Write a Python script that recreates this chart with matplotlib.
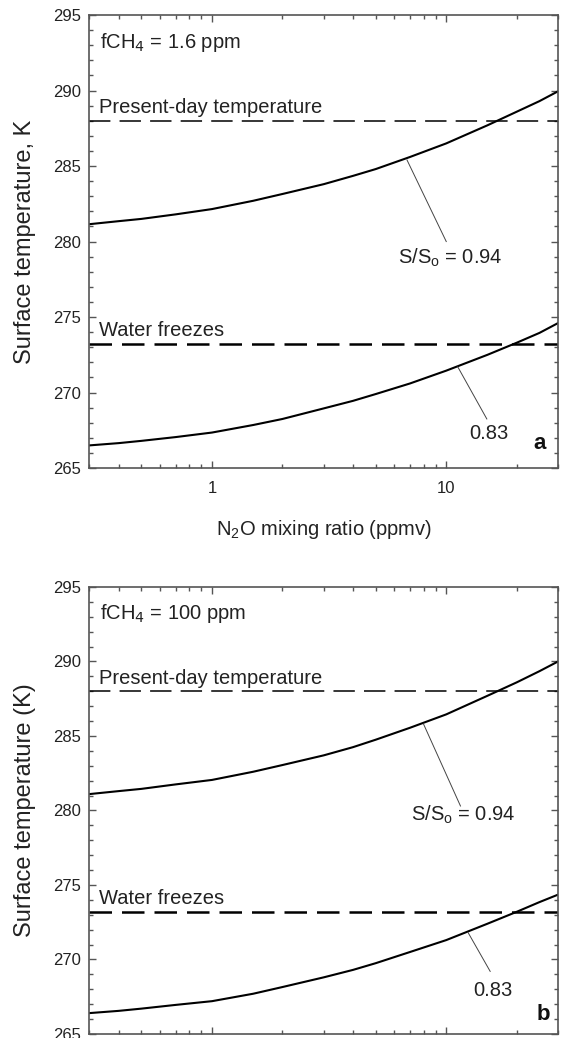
import matplotlib
matplotlib.use("Agg")
import matplotlib.pyplot as plt
from matplotlib.ticker import MultipleLocator, NullFormatter, LogLocator

plt.rcParams['font.family'] = ['Liberation Sans', 'DejaVu Sans']

# N2O mixing ratio (ppmv) and surface temperature (K)
n2o = [0.3, 0.4, 0.5, 0.7, 1, 1.5, 2, 3, 4, 5, 7, 10, 15, 20, 25, 30]
t094_a = [281.15, 281.35, 281.5, 281.8, 282.15, 282.7, 283.15, 283.8, 284.35,
          284.8, 285.6, 286.5, 287.7, 288.6, 289.3, 289.95]
t083_a = [266.5, 266.65, 266.8, 267.05, 267.35, 267.85, 268.25, 268.95, 269.45,
          269.9, 270.6, 271.45, 272.5, 273.3, 273.95, 274.6]
t094_b = [281.1, 281.3, 281.45, 281.75, 282.05, 282.6, 283.05, 283.7, 284.25,
          284.75, 285.55, 286.45, 287.7, 288.6, 289.35, 290.0]
t083_b = [266.4, 266.55, 266.7, 266.95, 267.2, 267.7, 268.15, 268.8, 269.3,
          269.75, 270.5, 271.3, 272.4, 273.2, 273.85, 274.35]

present_day = 288.0
freezing = 273.2

panels = [
    dict(t094=t094_a, t083=t083_a, ch4="fCH$_4$ = 1.6 ppm", ylabel="Surface temperature, K",
         letter="a", lbl94=(6.2, 278.9), lead94=((6.8, 10.0), (285.4, 280.0)),
         lbl83=(12.5, 267.3), lead83=((11.2, 14.9), (271.7, 268.25)), let_xy=(23.6, 266.6)),
    dict(t094=t094_b, t083=t083_b, ch4="fCH$_4$ = 100 ppm", ylabel="Surface temperature (K)",
         letter="b", lbl94=(7.1, 279.7), lead94=((8.0, 11.5), (285.8, 280.3)),
         lbl83=(13.0, 267.95), lead83=((12.4, 15.4), (271.8, 269.2)), let_xy=(24.3, 266.3)),
]

fig = plt.figure(figsize=(5.61, 10.38), dpi=100)
rects = [[0.1595, 0.5491, 0.8352, 0.4364], [0.1595, 0.0039, 0.8352, 0.4306]]
txt = '#222222'
spine_c = '#555555'
fs = 14.5

for i, (p, r) in enumerate(zip(panels, rects)):
    ax = fig.add_axes(r)
    ax.set_xscale('log')
    ax.set_xlim(0.3, 30)
    ax.set_ylim(265, 295)

    ax.plot(n2o, p['t094'], color='black', lw=1.5)
    ax.plot(n2o, p['t083'], color='black', lw=1.5)
    ax.axhline(present_day, color='black', lw=1.1, linestyle=(0, (14, 6)))
    ax.axhline(freezing, color='black', lw=1.8, linestyle=(0, (9, 4)))

    ax.text(0.022, 0.94, p['ch4'], transform=ax.transAxes, fontsize=fs, color=txt,
            ha='left', va='center')
    ax.text(0.33, present_day + 0.25, "Present-day temperature", fontsize=fs, color=txt,
            ha='left', va='bottom')
    ax.text(0.33, freezing + 0.25, "Water freezes", fontsize=fs, color=txt,
            ha='left', va='bottom')

    ax.plot(*p['lead94'], color='#444444', lw=0.7)
    ax.plot(*p['lead83'], color='#444444', lw=0.7)
    ax.text(*p['lbl94'], "S/S$_\\mathregular{o}$ = 0.94", fontsize=fs, color=txt,
            ha='left', va='center')
    ax.text(*p['lbl83'], "0.83", fontsize=fs, color=txt, ha='left', va='center')
    ax.text(*p['let_xy'], p['letter'], fontsize=16, fontweight='bold', color='#111111',
            ha='left', va='center')

    ax.set_ylabel(p['ylabel'], fontsize=17, color=txt, labelpad=12)

    ax.yaxis.set_major_locator(MultipleLocator(5))
    ax.yaxis.set_minor_locator(MultipleLocator(1))
    ax.set_xticks([1, 10])
    ax.set_xticklabels(['1', '10'])
    ax.xaxis.set_minor_locator(LogLocator(base=10, subs=range(2, 10)))
    ax.xaxis.set_minor_formatter(NullFormatter())

    ax.tick_params(which='both', direction='in', top=True, right=True, colors=spine_c,
                   labelcolor=txt, labelsize=12, width=1.0)
    ax.tick_params(which='major', length=5)
    ax.tick_params(which='minor', length=3)
    ax.tick_params(axis='x', pad=9)
    ax.tick_params(axis='y', pad=6)
    for s in ax.spines.values():
        s.set_color(spine_c)
        s.set_linewidth(1.2)

    if i == 0:
        ax.set_xlabel("N$_\\mathregular{2}$O mixing ratio (ppmv)", fontsize=fs, color=txt,
                      labelpad=16)
    else:
        ax.set_xticklabels([])

fig.savefig("out.png", dpi=100)
